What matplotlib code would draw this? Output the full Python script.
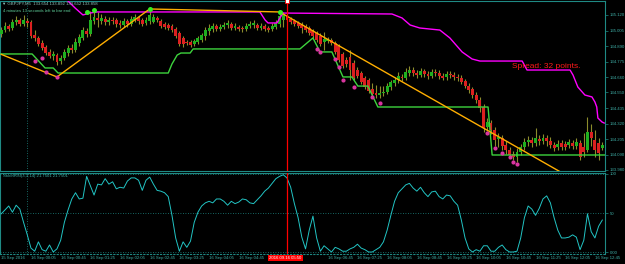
import matplotlib
matplotlib.use("Agg")
import matplotlib.pyplot as plt
import matplotlib.transforms as mtransforms
import numpy as np
import pandas as pd

plt.rcParams["font.family"] = ["Liberation Sans", "DejaVu Sans"]

# GBPJPY M5 bars, first bar 15 Sep 23:25
first_bar = "2016-09-15 23:25"

opens = [
    134.980, 135.009, 135.039, 135.024, 135.068, 135.083, 135.053, 135.076, 135.068, 134.973,
    134.951, 134.914, 134.884, 134.848, 134.818, 134.825, 134.781, 134.803, 134.840, 134.877,
    134.862, 134.914, 134.951, 135.002, 134.980, 135.076, 135.098, 135.076, 135.090, 135.068,
    135.083, 135.083, 135.061, 135.046, 135.076, 135.053, 135.083, 135.098, 135.083, 135.061,
    135.076, 135.068, 135.098, 135.076, 135.053, 135.046, 135.039, 135.017, 134.987, 134.951,
    134.921, 134.921, 134.906, 134.921, 134.936, 134.965, 135.002, 135.017, 135.039, 135.017,
    135.031, 135.046, 135.053, 135.024, 135.031, 135.024, 135.017, 135.039, 135.046, 135.046,
    135.024, 135.039, 135.024, 135.017, 135.031, 135.053, 135.083, 135.112, 135.090, 135.076,
    135.061, 135.046, 135.039, 135.024, 135.002, 134.987, 134.965, 134.921, 134.928, 134.936,
    134.914, 134.892, 134.833, 134.789, 134.811, 134.767, 134.715, 134.693, 134.656, 134.642,
    134.575, 134.546, 134.531, 134.546, 134.553, 134.590, 134.620, 134.642, 134.664, 134.656,
    134.693, 134.715, 134.693, 134.678, 134.708, 134.686, 134.671, 134.700, 134.693, 134.671,
    134.664, 134.686, 134.678, 134.664, 134.656, 134.634, 134.597, 134.575, 134.531, 134.495,
    134.443, 134.296, 134.325, 134.274, 134.208, 134.215, 134.164, 134.127, 134.097, 134.075,
    134.112, 134.149, 134.186, 134.200, 134.178, 134.208, 134.193, 134.215, 134.193, 134.164,
    134.149, 134.178, 134.171, 134.164, 134.178, 134.156, 134.178, 134.149, 134.127, 134.259,
    134.200, 134.178, 134.141,
]
highs = [
    135.031, 135.068, 135.053, 135.090, 135.112, 135.098, 135.120, 135.098, 135.083, 135.009,
    134.965, 134.936, 134.899, 134.870, 134.855, 134.840, 134.825, 134.870, 134.899, 134.906,
    134.951, 134.980, 135.031, 135.024, 135.149, 135.156, 135.142, 135.127, 135.112, 135.105,
    135.105, 135.098, 135.083, 135.098, 135.090, 135.112, 135.127, 135.112, 135.098, 135.105,
    135.164, 135.127, 135.112, 135.090, 135.068, 135.061, 135.053, 135.031, 135.002, 134.965,
    134.936, 134.936, 134.943, 134.965, 134.987, 135.031, 135.053, 135.061, 135.053, 135.053,
    135.068, 135.083, 135.068, 135.061, 135.046, 135.039, 135.061, 135.076, 135.083, 135.061,
    135.061, 135.053, 135.039, 135.061, 135.083, 135.149, 135.142, 135.127, 135.105, 135.090,
    135.076, 135.068, 135.053, 135.039, 135.017, 135.002, 134.987, 134.995, 134.958, 134.951,
    134.928, 134.906, 134.848, 134.811, 134.862, 134.789, 134.737, 134.708, 134.671, 134.656,
    134.620, 134.605, 134.597, 134.597, 134.620, 134.642, 134.664, 134.700, 134.686, 134.730,
    134.745, 134.737, 134.715, 134.730, 134.723, 134.708, 134.723, 134.723, 134.715, 134.693,
    134.708, 134.708, 134.700, 134.686, 134.678, 134.649, 134.620, 134.590, 134.553, 134.517,
    134.465, 134.362, 134.347, 134.296, 134.252, 134.237, 134.193, 134.149, 134.119, 134.141,
    134.171, 134.215, 134.230, 134.222, 134.289, 134.237, 134.244, 134.237, 134.222, 134.186,
    134.200, 134.200, 134.193, 134.208, 134.200, 134.215, 134.200, 134.252, 134.369, 134.318,
    134.274, 134.215, 134.186,
]
lows = [
    134.958, 134.995, 135.002, 135.009, 135.046, 135.039, 135.039, 135.031, 134.951, 134.928,
    134.892, 134.862, 134.825, 134.803, 134.789, 134.752, 134.759, 134.789, 134.818, 134.840,
    134.848, 134.892, 134.936, 134.958, 134.965, 135.053, 135.031, 135.053, 135.046, 135.046,
    135.053, 135.031, 135.024, 135.031, 135.031, 135.039, 135.068, 135.053, 135.039, 135.046,
    135.053, 135.061, 135.068, 135.024, 135.017, 135.009, 134.995, 134.951, 134.892, 134.884,
    134.899, 134.884, 134.892, 134.906, 134.921, 134.936, 134.973, 134.995, 135.002, 135.002,
    135.017, 135.024, 135.009, 135.009, 135.002, 134.995, 135.002, 135.024, 135.024, 135.009,
    135.009, 135.002, 134.995, 135.002, 135.017, 135.031, 135.031, 135.068, 135.053, 135.039,
    135.024, 134.987, 134.995, 134.973, 134.951, 134.921, 134.892, 134.862, 134.914, 134.899,
    134.833, 134.774, 134.730, 134.737, 134.642, 134.642, 134.656, 134.612, 134.575, 134.546,
    134.517, 134.509, 134.509, 134.524, 134.539, 134.568, 134.597, 134.620, 134.634, 134.642,
    134.671, 134.671, 134.656, 134.664, 134.664, 134.649, 134.656, 134.671, 134.649, 134.642,
    134.642, 134.656, 134.642, 134.634, 134.612, 134.583, 134.546, 134.509, 134.472, 134.406,
    134.259, 134.267, 134.244, 134.156, 134.149, 134.127, 134.097, 134.068, 134.053, 134.039,
    134.090, 134.127, 134.156, 134.149, 134.156, 134.164, 134.171, 134.156, 134.141, 134.119,
    134.127, 134.127, 134.127, 134.141, 134.134, 134.134, 134.053, 134.075, 134.112, 134.156,
    134.075, 134.053, 134.127,
]
closes = [
    135.009, 135.039, 135.017, 135.068, 135.083, 135.053, 135.083, 135.061, 134.965, 134.951,
    134.906, 134.877, 134.840, 134.818, 134.833, 134.774, 134.803, 134.848, 134.877, 134.862,
    134.921, 134.958, 135.009, 134.980, 135.083, 135.105, 135.083, 135.098, 135.068, 135.083,
    135.076, 135.053, 135.046, 135.076, 135.053, 135.090, 135.105, 135.076, 135.053, 135.083,
    135.120, 135.105, 135.083, 135.039, 135.031, 135.024, 135.009, 134.965, 134.906, 134.906,
    134.914, 134.899, 134.928, 134.951, 134.973, 135.009, 135.024, 135.039, 135.017, 135.031,
    135.046, 135.061, 135.024, 135.039, 135.017, 135.017, 135.039, 135.053, 135.061, 135.024,
    135.039, 135.017, 135.009, 135.039, 135.061, 135.112, 135.127, 135.083, 135.068, 135.053,
    135.039, 135.024, 135.009, 134.987, 134.965, 134.936, 134.906, 134.943, 134.943, 134.914,
    134.848, 134.789, 134.745, 134.759, 134.715, 134.656, 134.671, 134.627, 134.590, 134.561,
    134.539, 134.531, 134.546, 134.553, 134.597, 134.627, 134.642, 134.671, 134.656, 134.700,
    134.715, 134.693, 134.678, 134.708, 134.686, 134.671, 134.700, 134.693, 134.671, 134.656,
    134.686, 134.678, 134.664, 134.656, 134.627, 134.597, 134.568, 134.531, 134.495, 134.436,
    134.289, 134.333, 134.274, 134.200, 134.222, 134.156, 134.127, 134.090, 134.075, 134.112,
    134.149, 134.186, 134.200, 134.178, 134.215, 134.193, 134.215, 134.193, 134.164, 134.141,
    134.171, 134.149, 134.149, 134.186, 134.156, 134.186, 134.075, 134.112, 134.259, 134.215,
    134.127, 134.105, 134.164,
]

stoch_rsi = [
    49, 54, 59, 51, 60, 55, 38, 22, 5, 1,
    13, 3, 1, 9, 0, 4, 15, 38, 54, 68,
    76, 68, 69, 97, 85, 73, 87, 86, 94, 87,
    90, 81, 83, 82, 91, 95, 95, 92, 79, 92,
    96, 87, 79, 78, 76, 71, 47, 18, 1, 13,
    6, 14, 38, 51, 59, 63, 65, 63, 68, 68,
    65, 60, 65, 62, 64, 68, 67, 63, 62, 67,
    72, 78, 82, 88, 94, 97, 99, 95, 83, 62,
    44, 19, 4, 28, 46, 18, 1, 8, 4, 0,
    6, 4, 1, 1, 4, 6, 10, 5, 3, 0,
    0, 3, 6, 13, 28, 47, 65, 76, 81, 86,
    88, 82, 78, 83, 76, 71, 77, 78, 71, 68,
    73, 72, 65, 60, 41, 18, 4, 0, 3, 1,
    8, 8, 1, 1, 6, 9, 3, 0, 0, 1,
    18, 44, 59, 55, 47, 56, 68, 72, 63, 44,
    28, 18, 18, 19, 22, 19, 3, 15, 49, 26,
    18, 33, 41,
]

# zigzag pivots (bar index, price)
zigzag_bars = [0, 15, 40, 75, 162]
zigzag_prices = [134.830, 134.664, 135.164, 135.142, 133.790]

# channel lines (bar index, price)
upper_bars = [16.4, 17.7, 19.9, 22.0, 23.9, 25.8, 69.7, 71.1, 71.9, 74.3, 75.9,
              105.3, 108.0, 110.2, 112.8, 118.2, 120.9, 124.2, 126.9, 129.0,
              140.4, 141.7, 153.3, 154.1, 155.4, 157.3, 159.2, 160.0, 160.5,
              160.8, 161.9, 162.5]
upper_prices = [135.267, 135.230, 135.171, 135.120, 135.134, 135.142, 135.142,
                135.083, 135.061, 135.061, 135.134, 135.127, 135.098, 135.046,
                135.024, 135.009, 134.951, 134.848, 134.796, 134.781, 134.781,
                134.715, 134.715, 134.678, 134.590, 134.531, 134.517, 134.480,
                134.443, 134.362, 134.333, 134.325]
lower_bars = [-0.35, 8.3, 11.8, 14.0, 15.3, 45.0, 46.0, 47.4, 48.4, 50.9, 51.7,
              80.5, 84.0, 85.9, 89.1, 92.1, 94.5, 96.1, 98.8, 101.5, 131.2,
              132.3, 162.7]
lower_prices = [134.833, 134.833, 134.730, 134.730, 134.693, 134.693, 134.759,
                134.825, 134.840, 134.840, 134.870, 134.870, 134.951, 134.848,
                134.848, 134.664, 134.664, 134.597, 134.597, 134.443, 134.443,
                134.090, 134.090]

low_dot_bars = [9, 11, 12, 15, 85, 86, 90, 91, 92, 95, 100, 102,
                131, 133, 135, 137, 138, 139]
low_dot_prices = [134.781, 134.803, 134.700, 134.664, 134.870, 134.848, 134.796,
                  134.737, 134.642, 134.590, 134.517, 134.472, 134.252, 134.141,
                  134.105, 134.075, 134.039, 134.024]
high_dot_bars = [23, 25, 40, 75]
high_dot_prices = [135.142, 135.156, 135.164, 135.142]

price_ticks = [135.120, 135.005, 134.890, 134.775, 134.660, 134.550,
               134.435, 134.320, 134.205, 134.090, 133.980]
stoch_ticks = [0, 50, 100]
stoch_tick_labels = ["0.00", "50", "100"]

separator_bar = 7
cursor_bar = 77
symbol_line = "\u25bc GBPJPY,M5  133.654 133.892 133.652 133.858"
timer_line = "4 minutes 13 seconds left to bar end"
stoch_label = "StochRSI(3,3,14) 21.7501 21.7501"
spread_text = "Spread: 32 points."

# colours
BG = "black"
FRAME = "#1f8a84"
LABEL = "#3fb0a8"
BULL = "#1fb01f"
BEAR = "#dc2020"
WICK = "#8c8c2c"

W, H = 625, 264


def px_box(left, top, right, bottom):
    return [left / W, 1 - bottom / H, (right - left) / W, (bottom - top) / H]


fig = plt.figure(figsize=(W / 100, H / 100), dpi=100, facecolor=BG)
ax = fig.add_axes(px_box(0, 1, 605, 171), facecolor=BG)
ax2 = fig.add_axes(px_box(0, 173, 605, 254), facecolor=BG)

n = len(closes)
xs = np.arange(n)
o = np.array(opens)
c = np.array(closes)
up = c >= o
body_low = np.minimum(o, c)
body_h = np.maximum(np.abs(c - o), 0.004)

# candles
ax.vlines(xs, lows, highs, color=WICK, lw=0.8, zorder=2)
ax.bar(xs[up], body_h[up], bottom=body_low[up], width=0.78, color=BULL, lw=0, zorder=3)
ax.bar(xs[~up], body_h[~up], bottom=body_low[~up], width=0.78, color=BEAR, lw=0, zorder=3)

# indicators
ax.plot(upper_bars, upper_prices, color="#ff00ff", lw=1.0, zorder=4)
ax.plot(lower_bars, lower_prices, color="#3dd43d", lw=1.0, zorder=4)
ax.plot(zigzag_bars, zigzag_prices, color="#ffae00", lw=1.0, zorder=5)
ax.plot(low_dot_bars, low_dot_prices, "o", color="#d8359f", ms=3, mew=0, zorder=6)
ax.plot(high_dot_bars, high_dot_prices, "o", color="#33ee22", ms=3.6, mew=0, zorder=6)

ax2.plot(xs, stoch_rsi, color="#22c4c4", lw=0.7, zorder=3)
for lvl in stoch_ticks:
    ax2.axhline(lvl, color=FRAME, lw=0.6, ls=(0, (1, 2)), zorder=1)

# period separator and cursor line
for a in (ax, ax2):
    a.axvline(separator_bar, color=FRAME, lw=0.6, ls=(0, (1, 2)), zorder=1)
    a.axvline(cursor_bar, color="#ff0000", lw=0.9, zorder=7)
    a.set_xlim(-0.35, n - 0.28)
    a.set_xticks([])
    for s in a.spines.values():
        s.set_color(FRAME)
        s.set_linewidth(0.8)
    a.tick_params(axis="y", left=False, right=True, labelleft=False, labelright=True,
                  direction="out", length=2, width=0.5, color=FRAME,
                  labelcolor=LABEL, labelsize=3.1, pad=1.5)
ax2.spines["bottom"].set_linestyle((0, (1, 2)))

ax.set_ylim(133.9723, 135.2226)
ax.set_yticks(price_ticks)
ax.set_yticklabels([f"{p:.3f}" for p in price_ticks])
ax2.set_ylim(-2.56, 101.28)
ax2.set_yticks(stoch_ticks)
ax2.set_yticklabels(stoch_tick_labels)

ax.plot([cursor_bar], [135.2226], "s", ms=2.2, mfc="white", mec="#ff0000", mew=0.6,
        clip_on=False, zorder=8)

# time scale; the label under the cursor box is hidden, the next one starts after it
times = pd.date_range(first_bar, periods=n, freq="5min")
blend = mtransforms.blended_transform_factory(ax2.transData, fig.transFigure)
y_time = 1 - 258 / H
ax2.text(0, y_time, "15 Sep 2016", transform=blend, ha="left", va="center",
         color=LABEL, fontsize=3.1, clip_on=False)
for b in range(8, n, 8):
    if abs(b - cursor_bar) < 6:
        continue
    t = times[b]
    xb = b + 1.2 if b == 80 else b
    ax2.text(xb, y_time, f"{t.day} {t:%b} {t:%H:%M}", transform=blend, ha="left",
             va="center", color=LABEL, fontsize=3.1, clip_on=False)
ax2.text(cursor_bar - 0.5, y_time, times[cursor_bar].strftime("%Y.%m.%d %H:%M"),
         transform=blend, ha="center", va="center", color="white", fontsize=3.1,
         bbox=dict(boxstyle="square,pad=0.3", fc="#ff0000", ec="none"),
         clip_on=False, zorder=10)

# labels
fig.text(2 / W, 1 - 4 / H, symbol_line, color="#8fc4bc", fontsize=3.1, va="center")
fig.text(3 / W, 1 - 11 / H, timer_line, color="#5fcf9a", fontsize=3.1, va="center")
fig.text(3 / W, 1 - 176.5 / H, stoch_label, color=LABEL, fontsize=3.1, va="center")
fig.text(512 / W, 1 - 67 / H, spread_text, color="#ff1a1a", fontsize=6, va="center")

fig.savefig("out.png", dpi=100, facecolor=BG)
plt.close(fig)
